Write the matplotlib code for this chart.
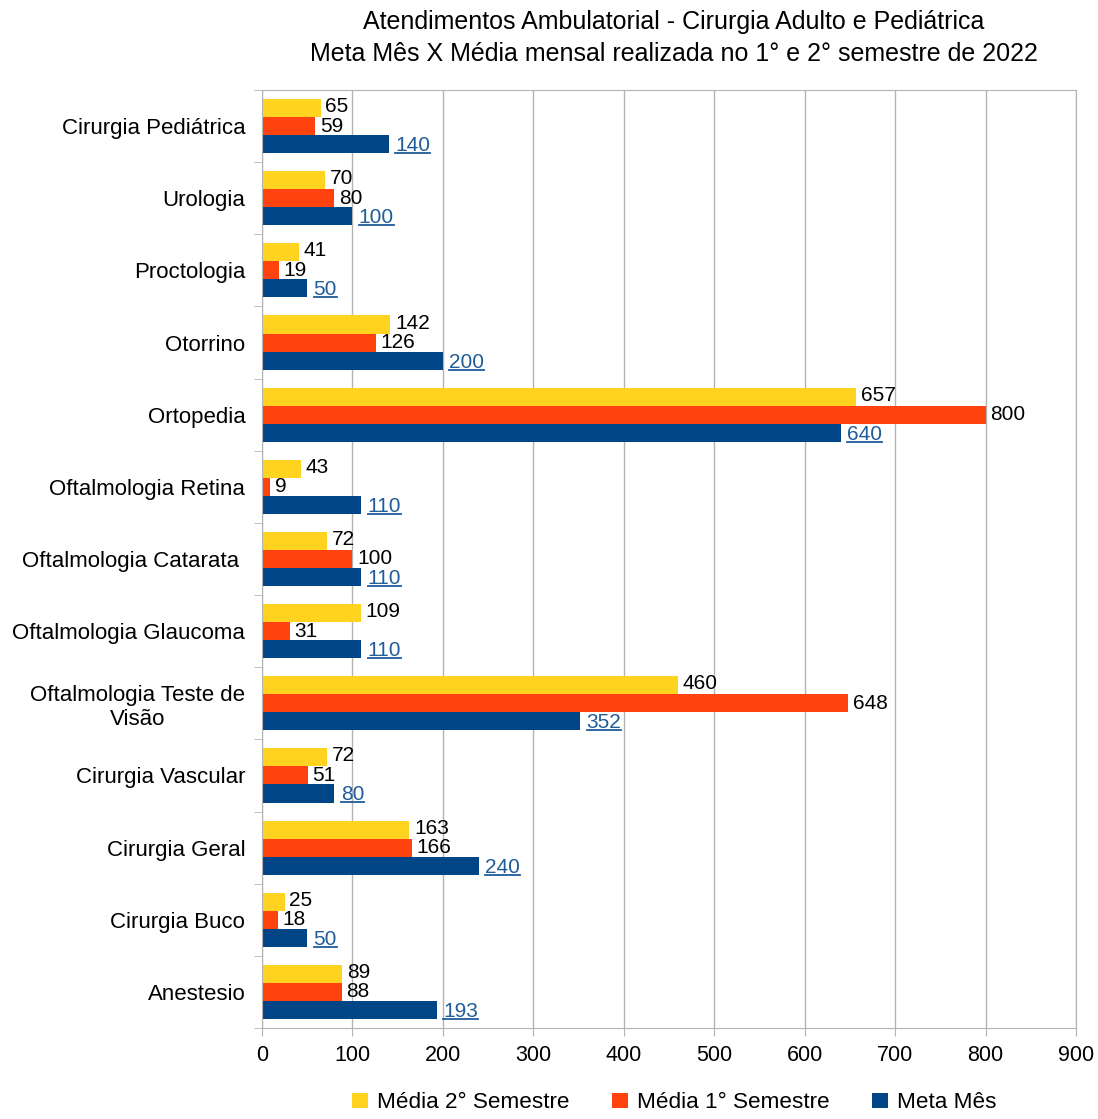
import numpy as np
import matplotlib.pyplot as plt
from matplotlib.lines import Line2D

plt.rcParams['font.family'] = ['Liberation Sans', 'DejaVu Sans']

categorias = ["Cirurgia Pediátrica", "Urologia", "Proctologia", "Otorrino", "Ortopedia",
              "Oftalmologia Retina", "Oftalmologia Catarata ", "Oftalmologia Glaucoma",
              "Oftalmologia Teste de\nVisão", "Cirurgia Vascular", "Cirurgia Geral",
              "Cirurgia Buco", "Anestesio"]
media_2sem = [65, 70, 41, 142, 657, 43, 72, 109, 460, 72, 163, 25, 89]
media_1sem = [59, 80, 19, 126, 800, 9, 100, 31, 648, 51, 166, 18, 88]
meta_mes = [140, 100, 50, 200, 640, 110, 110, 110, 352, 80, 240, 50, 193]

cor_amarelo = "#ffd320"
cor_vermelho = "#ff420e"
cor_azul = "#004586"
cor_label_azul = "#1f5c99"

fig = plt.figure(figsize=(10.98, 11.19), dpi=100)
ax = fig.add_axes([262/1098, 1 - 1028/1119, (1076-262)/1098, (1028-90)/1119])

n = len(categorias)
y = np.arange(n)[::-1]
h = 0.25

b1 = ax.barh(y + h, media_2sem, height=h, color=cor_amarelo, label="Média 2° Semestre")
b2 = ax.barh(y, media_1sem, height=h, color=cor_vermelho, label="Média 1° Semestre")
b3 = ax.barh(y - h, meta_mes, height=h, color=cor_azul, label="Meta Mês")

ax.set_xlim(0, 900)
ax.set_ylim(-0.5, n - 0.5)
ax.set_xticks(np.arange(0, 901, 100))
ax.set_yticks(y)
ax.set_yticklabels(categorias, fontsize=16, multialignment='center')
ax.set_yticks(np.arange(-0.5, n, 1), minor=True)
ax.tick_params(axis='y', which='major', length=0, pad=12)
ax.tick_params(axis='y', which='minor', length=6, color='#b3b3b3')
ax.tick_params(axis='x', length=6, color='#b3b3b3', labelsize=15.5, pad=6)
ax.grid(axis='x', color='#b3b3b3', linewidth=1)
ax.set_axisbelow(True)
for s in ax.spines.values():
    s.set_color('#b3b3b3')

for v, yy in zip(media_2sem, y):
    ax.text(v + 5, yy + h + 0.02, str(v), va='center', ha='left', fontsize=15, color='black')
for v, yy in zip(media_1sem, y):
    ax.text(v + 5, yy, str(v), va='center', ha='left', fontsize=15, color='black')

labels_azul = []
for v, yy in zip(meta_mes, y):
    t = ax.text(v + 7, yy - h - 0.02, str(v), va='center', ha='left', fontsize=15, color=cor_label_azul)
    labels_azul.append(t)

fig.text(674/1098, 1 - 38/1119,
         "Atendimentos Ambulatorial - Cirurgia Adulto e Pediátrica\n"
         "Meta Mês X Média mensal realizada no 1° e 2° semestre de 2022",
         fontsize=18, ha='center', va='center', multialignment='center', linespacing=1.4)

fig.legend(handles=[b1, b2, b3], loc='lower center', bbox_to_anchor=(0.614, -0.013), ncol=3,
           frameon=False, fontsize=16.2, handlelength=0.7, handleheight=0.7,
           columnspacing=1.9, handletextpad=0.4)

# sublinhado dos rótulos da meta
fig.canvas.draw()
r = fig.canvas.get_renderer()
inv = fig.transFigure.inverted()
for t in labels_azul:
    bb = t.get_window_extent(r)
    x0, y0 = inv.transform((bb.x0, bb.y0 + 2))
    x1, _ = inv.transform((bb.x1, bb.y0 + 2))
    fig.add_artist(Line2D([x0, x1], [y0, y0], color=cor_label_azul, linewidth=1.3,
                          transform=fig.transFigure))

fig.savefig("out.png", dpi=100)
